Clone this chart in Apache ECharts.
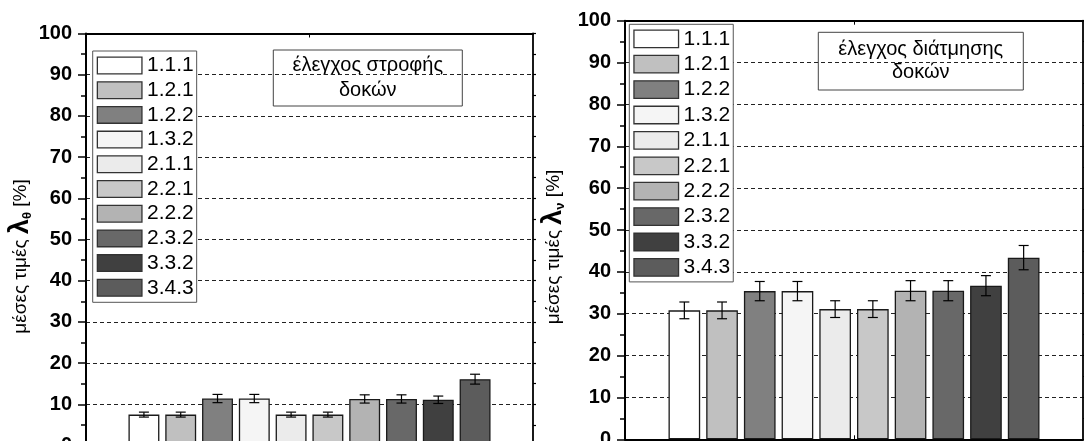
<!DOCTYPE html>
<html>
<head>
<meta charset="utf-8">
<script src="https://cdn.jsdelivr.net/npm/echarts@6/dist/echarts.min.js"></script>
<style>html,body{margin:0;padding:0;background:#fff;}#c{width:1084px;height:441px;}</style>
</head>
<body>
<div id="c"></div>
<script>
const categories = ['1.1.1','1.2.1','1.2.2','1.3.2','2.1.1','2.2.1','2.2.2','2.3.2','3.3.2','3.4.3'];
const barColors = ['#ffffff','#c0c0c0','#808080','#f5f5f5','#ebebeb','#c8c8c8','#b3b3b3','#686868','#404040','#5c5c5c'];
const rotationMeans = [7.5, 7.5, 11.4, 11.4, 7.5, 7.5, 11.3, 11.3, 11.1, 16.1];
const rotationErrors = [0.6, 0.6, 1.0, 1.0, 0.6, 0.6, 1.0, 1.0, 0.9, 1.2];
const shearMeans = [30.8, 30.8, 35.4, 35.4, 31.1, 31.1, 35.5, 35.5, 36.7, 43.4];
const shearErrors = [2.0, 2.0, 2.3, 2.3, 2.0, 2.0, 2.4, 2.4, 2.4, 2.9];
const yTickValues = [0, 10, 20, 30, 40, 50, 60, 70, 80, 90, 100];
const leftTitle = 'έλεγχος στροφής\nδοκών';
const rightTitle = 'έλεγχος διάτμησης\nδοκών';

const FONT = '"Liberation Sans", Arial, sans-serif';
const CAT_GAP = 0.19, BAR_GAP = 0.19;
const yMin = yTickValues[0], yMax = yTickValues[yTickValues.length - 1];
const yInterval = yTickValues[1] - yTickValues[0];

const chart = echarts.init(document.getElementById('c'), null, {renderer: 'canvas'});

function errorRender(params, api) {
  const n = categories.length;
  const idx = api.value(3);
  const bw = api.size([1, 0])[0];
  const center = api.coord([api.value(0), 0])[0];
  const remained = bw * (1 - CAT_GAP);
  const barW = remained / (n + (n - 1) * BAR_GAP);
  const x = center - remained / 2 + idx * barW * (1 + BAR_GAP) + barW / 2;
  const v = api.value(1), e = api.value(2);
  const top = api.coord([api.value(0), v + e])[1];
  const bot = api.coord([api.value(0), v - e])[1];
  const hw = 5;
  const st = {stroke: '#000', lineWidth: 1.2};
  return {type: 'group', children: [
    {type: 'line', shape: {x1: x, y1: top, x2: x, y2: bot}, style: st},
    {type: 'line', shape: {x1: x - hw, y1: top, x2: x + hw, y2: top}, style: st},
    {type: 'line', shape: {x1: x - hw, y1: bot, x2: x + hw, y2: bot}, style: st}
  ]};
}

function nameRich() {
  return {
    a: {fontSize: 19, fontFamily: FONT, color: '#000'},
    l: {fontSize: 27, fontWeight: 'bold', fontFamily: FONT, color: '#000'},
    s: {fontSize: 13, fontWeight: 'bold', fontFamily: FONT, color: '#000', verticalAlign: 'bottom', padding: [10, 0, 0, 0]}
  };
}

function yAxisMain(gridIndex, sub, nameGap) {
  return {
    type: 'value', gridIndex: gridIndex, position: 'left',
    min: yMin, max: yMax, interval: yInterval,
    name: '{a|μέσες τιμές }{l|λ}{s|' + sub + '}{a| [%]}',
    nameLocation: 'middle', nameRotate: 90, nameGap: nameGap,
    nameTextStyle: {rich: nameRich(), padding: [0, 34, 0, 0]},
    axisLine: {show: true, lineStyle: {color: '#000', width: 2}},
    axisTick: {show: true, inside: false, length: 8, lineStyle: {color: '#000', width: 1.5}},
    minorTick: {show: true, splitNumber: 2, length: 5, lineStyle: {color: '#000', width: 1.5}},
    axisLabel: {show: true, margin: 14, fontSize: 20, fontWeight: 'bold', color: '#000', fontFamily: FONT},
    splitLine: {show: true, lineStyle: {color: '#222', width: 1, type: [4, 3]}},
    minorSplitLine: {show: false}
  };
}
function yAxisMirror(gridIndex) {
  return {
    type: 'value', gridIndex: gridIndex, position: 'right',
    min: yMin, max: yMax, interval: yInterval,
    axisLine: {show: true, lineStyle: {color: '#000', width: 1.8}},
    axisTick: {show: true, inside: false, length: 3, lineStyle: {color: '#000', width: 1.2}},
    minorTick: {show: true, splitNumber: 2, length: 3, lineStyle: {color: '#000', width: 1.2}},
    axisLabel: {show: false}, splitLine: {show: false}
  };
}
function xAxis(gridIndex, pos) {
  return {
    type: 'category', gridIndex: gridIndex, position: pos, data: [''],
    axisLine: {show: true, onZero: false, lineStyle: {color: '#000', width: 2}},
    axisTick: {show: true, inside: true, alignWithLabel: true, length: 4, lineStyle: {color: '#000', width: 1}},
    axisLabel: {show: false}, splitLine: {show: false}
  };
}

const series = [];
[[rotationMeans, rotationErrors], [shearMeans, shearErrors]].forEach(function (pair, g) {
  categories.forEach(function (name, i) {
    series.push({
      type: 'bar', name: name, xAxisIndex: g * 2, yAxisIndex: g * 2,
      data: [pair[0][i]],
      barCategoryGap: (CAT_GAP * 100) + '%', barGap: (BAR_GAP * 100) + '%',
      itemStyle: {color: barColors[i], borderColor: '#1a1a1a', borderWidth: 1.3},
      emphasis: {disabled: true}, animation: false
    });
  });
  series.push({
    type: 'custom', xAxisIndex: g * 2, yAxisIndex: g * 2,
    renderItem: errorRender,
    encode: {x: 0, y: 1},
    data: categories.map(function (c, i) { return [0, pair[0][i], pair[1][i], i]; }),
    z: 5, animation: false, silent: true
  });
});

function legend(left, top, itemH, gap) {
  return {
    orient: 'vertical', left: left, top: top, data: categories,
    itemWidth: 44.6, itemHeight: itemH, itemGap: gap,
    icon: 'rect',
    padding: [4, 3, 4, 4],
    backgroundColor: '#fff', borderColor: '#555', borderWidth: 1,
    itemStyle: {borderColor: '#333', borderWidth: 1.3},
    textStyle: {fontSize: 21, color: '#000', fontFamily: FONT, lineHeight: 21},
    selectedMode: false
  };
}

function titleBox(x, y, w, h, text, lh) {
  return {
    type: 'group', z: 100,
    children: [
      {type: 'rect', shape: {x: x, y: y, width: w, height: h}, style: {fill: '#fff', stroke: '#444', lineWidth: 1}},
      {type: 'text', x: x + w / 2, y: y + h / 2, style: {text: text, font: '20px ' + FONT, fill: '#000', align: 'center', verticalAlign: 'middle', lineHeight: lh}}
    ]
  };
}

chart.setOption({
  backgroundColor: '#fff',
  animation: false,
  grid: [
    {left: 86, top: 33.5, width: 447, height: 412, containLabel: false, outerBoundsMode: 'none'},
    {left: 625, top: 20.7, width: 458, height: 418.6, containLabel: false, outerBoundsMode: 'none'}
  ],
  xAxis: [xAxis(0, 'bottom'), xAxis(0, 'top'), xAxis(1, 'bottom'), xAxis(1, 'top')],
  yAxis: [yAxisMain(0, 'θ', 52), yAxisMirror(0), yAxisMain(1, 'ν', 58), yAxisMirror(1)],
  legend: [legend(92.7, 51, 16.7, 3.7), legend(629.3, 24.3, 17.5, 4.4)],
  graphic: [
    titleBox(273.3, 50, 189, 56, leftTitle, 25),
    titleBox(818.3, 32.3, 205, 57.7, rightTitle, 23.5)
  ],
  series: series
});
</script>
</body>
</html>
